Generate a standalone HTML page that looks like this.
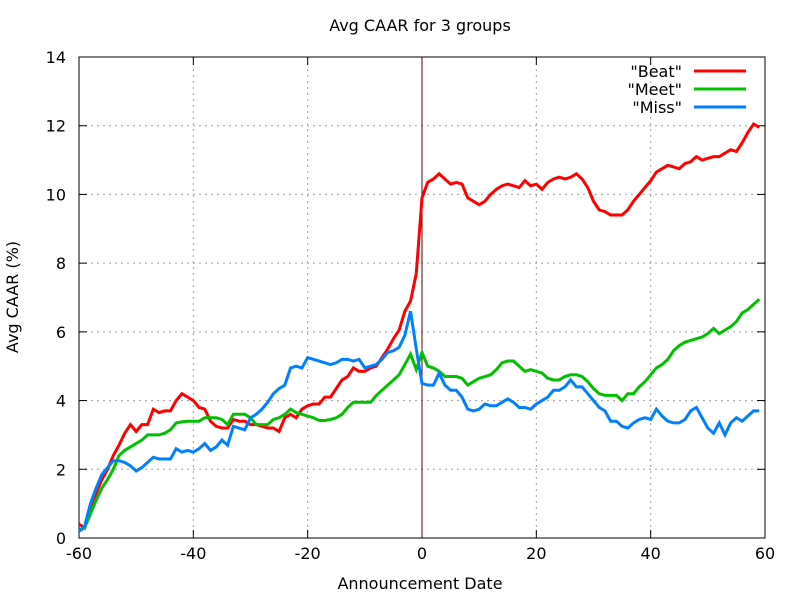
<!DOCTYPE html>
<html><head><meta charset="utf-8"><style>
body{margin:0;background:#fff}
svg{display:block;font-family:"DejaVu Sans","Liberation Sans",sans-serif}
</style></head><body>
<svg id="chart" width="800" height="600">
<rect width="800" height="600" fill="#fff"/>
<g id="grid"></g>
<g id="axes"></g>
<g id="series"></g>
<text x="420" y="31" text-anchor="middle" font-size="16">Avg CAAR for 3 groups</text>
<text x="420" y="589" text-anchor="middle" font-size="16">Announcement Date</text>
<text transform="translate(18,297) rotate(-90)" text-anchor="middle" font-size="16">Avg CAAR (%)</text>
<g id="legend"></g>
</svg>
<script>
const xTicks=[-60,-40,-20,0,20,40,60];
const yTicks=[0,2,4,6,8,10,12,14];
const seriesNames=['"Beat"','"Meet"','"Miss"'];
const beat=[0.4,0.3,0.8,1.3,1.7,2.0,2.4,2.7,3.05,3.3,3.1,3.3,3.3,3.75,3.65,3.7,3.7,4.0,4.2,4.1,4.0,3.8,3.75,3.4,3.25,3.2,3.2,3.45,3.4,3.4,3.3,3.3,3.25,3.2,3.2,3.1,3.5,3.6,3.5,3.75,3.85,3.9,3.9,4.1,4.1,4.35,4.6,4.7,4.95,4.85,4.85,4.95,5.0,5.25,5.5,5.8,6.05,6.6,6.9,7.7,9.9,10.35,10.45,10.6,10.45,10.3,10.35,10.3,9.9,9.8,9.7,9.8,10.0,10.15,10.25,10.3,10.25,10.2,10.4,10.25,10.3,10.15,10.35,10.45,10.5,10.45,10.5,10.6,10.45,10.2,9.8,9.55,9.5,9.4,9.4,9.4,9.55,9.8,10.0,10.2,10.4,10.65,10.75,10.85,10.8,10.75,10.9,10.95,11.1,11.0,11.05,11.1,11.1,11.2,11.3,11.25,11.5,11.8,12.05,11.95];
const meet=[0.2,0.3,0.7,1.1,1.45,1.7,2.0,2.4,2.55,2.65,2.75,2.85,3.0,3.0,3.0,3.05,3.15,3.35,3.38,3.4,3.4,3.4,3.5,3.5,3.5,3.45,3.3,3.6,3.6,3.6,3.5,3.3,3.3,3.3,3.45,3.5,3.6,3.75,3.65,3.6,3.55,3.5,3.42,3.42,3.45,3.5,3.6,3.8,3.95,3.95,3.95,3.95,4.15,4.3,4.45,4.6,4.75,5.05,5.35,4.9,5.4,5.0,4.95,4.85,4.7,4.7,4.7,4.65,4.45,4.55,4.65,4.7,4.75,4.9,5.1,5.15,5.15,5.0,4.85,4.9,4.85,4.8,4.65,4.6,4.6,4.7,4.75,4.75,4.7,4.55,4.35,4.2,4.15,4.15,4.15,4.0,4.2,4.2,4.4,4.55,4.75,4.95,5.05,5.2,5.45,5.6,5.7,5.75,5.8,5.85,5.95,6.1,5.95,6.05,6.15,6.3,6.55,6.65,6.8,6.95];
const miss=[0.2,0.35,1.0,1.45,1.85,2.05,2.25,2.25,2.2,2.1,1.95,2.05,2.2,2.35,2.3,2.3,2.3,2.6,2.5,2.55,2.5,2.6,2.75,2.55,2.65,2.85,2.7,3.25,3.2,3.15,3.5,3.6,3.75,3.95,4.2,4.35,4.45,4.95,5.0,4.95,5.25,5.2,5.15,5.1,5.05,5.1,5.2,5.2,5.15,5.2,4.95,5.0,5.05,5.2,5.4,5.45,5.55,5.9,6.6,5.5,4.5,4.45,4.45,4.8,4.45,4.3,4.3,4.1,3.75,3.7,3.75,3.9,3.85,3.85,3.95,4.05,3.95,3.8,3.8,3.75,3.9,4.0,4.1,4.3,4.3,4.4,4.6,4.4,4.4,4.2,4.0,3.8,3.7,3.4,3.4,3.25,3.2,3.35,3.45,3.5,3.45,3.75,3.55,3.4,3.35,3.35,3.45,3.7,3.8,3.5,3.2,3.05,3.35,3.0,3.35,3.5,3.4,3.55,3.7,3.7];
const xStart=-60;
const L=79,R=765,T=57,B=538;
const sx=v=>L+(v+60)/120*(R-L);
const sy=v=>B-v/14*(B-T);
const NS='http://www.w3.org/2000/svg';
function mk(tag,attrs,parent){const e=document.createElementNS(NS,tag);for(const k in attrs)e.setAttribute(k,attrs[k]);parent.appendChild(e);return e;}
const grid=document.getElementById('grid'),axes=document.getElementById('axes'),ser=document.getElementById('series'),leg=document.getElementById('legend');
xTicks.forEach(t=>{const x=sx(t);
 if(t>-60&&t<60){const g=mk('line',{x1:x,x2:x,y1:T,y2:B,stroke:'#a0a0a0','stroke-dasharray':'2,4','stroke-width':1},grid);
 
 }
 mk('line',{x1:x,x2:x,y1:B,y2:B-8,stroke:'#000'},axes);
 mk('line',{x1:x,x2:x,y1:T,y2:T+8,stroke:'#000'},axes);
 const tx=mk('text',{x:x,y:B+21,'text-anchor':'middle','font-size':16},axes);tx.textContent=t;
 
 
});
yTicks.forEach(t=>{const y=sy(t);
 if(t>0&&t<14){const g=mk('line',{x1:L,x2:R,y1:y,y2:y,stroke:'#a0a0a0','stroke-dasharray':'2,4','stroke-width':1},grid);
 
 }
 mk('line',{x1:L,x2:L+8,y1:y,y2:y,stroke:'#000'},axes);
 mk('line',{x1:R,x2:R-8,y1:y,y2:y,stroke:'#000'},axes);
 const tx=mk('text',{x:66,y:y+6,'text-anchor':'end','font-size':16},axes);tx.textContent=t;
 
 
});
const zl=mk('line',{x1:sx(0),x2:sx(0),y1:T,y2:B,stroke:'#600000','stroke-width':1},axes);


const fr=mk('rect',{x:L,y:T,width:R-L,height:B-T,fill:'none',stroke:'#000','stroke-width':1},axes);


const data=[beat,meet,miss],cols=['#ff0000','#00c000','#0080ff'],names=['beat-line','meet-line','miss-line'];
data.forEach((arr,i)=>{
 const d=arr.map((v,j)=>(j?'L':'M')+sx(xStart+j).toFixed(2)+','+sy(v).toFixed(2)).join('');
 const p=mk('path',{d:d,fill:'none',stroke:cols[i],'stroke-width':3,'stroke-linejoin':'miter'},ser);
 
 
 const y=71+i*18;
 const tx=mk('text',{x:682,y:y+6,'text-anchor':'end','font-size':16},leg);tx.textContent=seriesNames[i];
 
 
 const ln=mk('line',{x1:694,x2:746,y1:y,y2:y,stroke:cols[i],'stroke-width':3},leg);
 
 
});
</script>
</body></html>
